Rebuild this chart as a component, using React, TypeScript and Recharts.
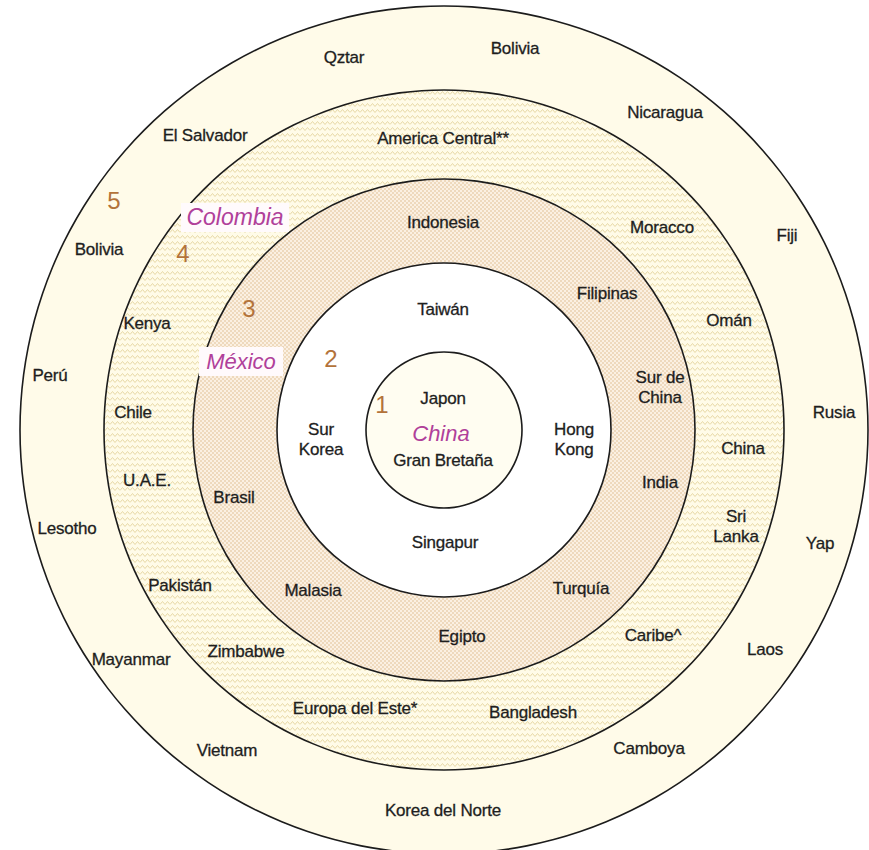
import { Cell, Pie, PieChart, Scatter, ScatterChart, XAxis, YAxis } from "recharts";

// rings, innermost first
const ringNames = ["1", "2", "3", "4", "5"];

// countries, in diagram units (0,0 = centre, y up)
const countries = [
  // ring 1
  { name: "Japon", ring: 1, x: -1, y: 32 },
  { name: "Gran Bretaña", ring: 1, x: -1, y: -30 },
  // ring 2
  { name: "Taiwán", ring: 2, x: -1, y: 121 },
  { name: "Sur\nKorea", ring: 2, x: -123, y: -9 },
  { name: "Hong\nKong", ring: 2, x: 130, y: -9 },
  { name: "Singapur", ring: 2, x: 1, y: -112 },
  // ring 3
  { name: "Indonesia", ring: 3, x: -1, y: 208 },
  { name: "Filipinas", ring: 3, x: 163, y: 137 },
  { name: "Sur de\nChina", ring: 3, x: 216, y: 43 },
  { name: "India", ring: 3, x: 216, y: -52 },
  { name: "Brasil", ring: 3, x: -210, y: -67 },
  { name: "Malasia", ring: 3, x: -131, y: -160 },
  { name: "Turquía", ring: 3, x: 137, y: -158 },
  { name: "Egipto", ring: 3, x: 18, y: -206 },
  // ring 4
  { name: "America Central**", ring: 4, x: -1, y: 292 },
  { name: "Moracco", ring: 4, x: 218, y: 203 },
  { name: "Omán", ring: 4, x: 285, y: 110 },
  { name: "Kenya", ring: 4, x: -297, y: 107 },
  { name: "Chile", ring: 4, x: -311, y: 18 },
  { name: "China", ring: 4, x: 299, y: -18 },
  { name: "U.A.E.", ring: 4, x: -297, y: -50 },
  { name: "Sri\nLanka", ring: 4, x: 292, y: -96 },
  { name: "Pakistán", ring: 4, x: -264, y: -155 },
  { name: "Caribe^", ring: 4, x: 209, y: -205 },
  { name: "Zimbabwe", ring: 4, x: -198, y: -221 },
  { name: "Europa del Este*", ring: 4, x: -89, y: -278 },
  { name: "Bangladesh", ring: 4, x: 89, y: -282 },
  // ring 5
  { name: "Qztar", ring: 5, x: -100, y: 373 },
  { name: "Bolivia", ring: 5, x: 71, y: 382 },
  { name: "Nicaragua", ring: 5, x: 221, y: 318 },
  { name: "El Salvador", ring: 5, x: -239, y: 295 },
  { name: "Fiji", ring: 5, x: 343, y: 195 },
  { name: "Bolivia", ring: 5, x: -345, y: 181 },
  { name: "Perú", ring: 5, x: -394, y: 55 },
  { name: "Rusia", ring: 5, x: 390, y: 18 },
  { name: "Lesotho", ring: 5, x: -377, y: -98 },
  { name: "Yap", ring: 5, x: 376, y: -113 },
  { name: "Mayanmar", ring: 5, x: -313, y: -229 },
  { name: "Laos", ring: 5, x: 321, y: -219 },
  { name: "Vietnam", ring: 5, x: -217, y: -320 },
  { name: "Camboya", ring: 5, x: 205, y: -318 },
  { name: "Korea del Norte", ring: 5, x: -1, y: -380 },
];

const highlights = [
  { name: "China", ring: 1, x: -3, y: -3 },
  { name: "México", ring: 3, x: -203, y: 69 },
  { name: "Colombia", ring: 4, x: -209, y: 213 },
];

const ringNumbers = [
  { name: "1", x: -62, y: 26 },
  { name: "2", x: -113, y: 72 },
  { name: "3", x: -195, y: 122 },
  { name: "4", x: -261, y: 177 },
  { name: "5", x: -330, y: 230 },
];

const W = 869;
const H = 850;
const CX = 444;
const CY = 430;
const RADII = [78, 167, 251, 340, 424];
const FILLS = ["#fffdf1", "#ffffff", "url(#checker)", "url(#wavy)", "#fffbe9"];
const FONT = "'Liberation Sans', Arial, sans-serif";

const ringData = ringNames.map((n) => ({ ring: n, share: 1 }));

function CountryLabel(props: any) {
  const { cx, cy, payload } = props;
  const lines = String(payload.name).split("\n");
  const lh = 20;
  const y0 = cy - ((lines.length - 1) * lh) / 2 + 6;
  return (
    <text
      textAnchor="middle"
      fontFamily={FONT}
      fontSize={17}
      letterSpacing={-0.2}
      fill="#1e1e1e"
      stroke="#1e1e1e"
      strokeWidth={0.3}
    >
      {lines.map((l, i) => (
        <tspan key={i} x={cx} y={y0 + i * lh}>
          {l}
        </tspan>
      ))}
    </text>
  );
}

function HighlightLabel(props: any) {
  const { cx, cy, payload } = props;
  const boxed = payload.ring > 1;
  const w = payload.name.length * 12 + 12;
  return (
    <g>
      {boxed && <rect x={cx - w / 2} y={cy - 14} width={w} height={29} fill="#fffafc" />}
      <text
        x={cx}
        y={cy + 8}
        textAnchor="middle"
        fontFamily={FONT}
        fontSize={payload.ring === 4 ? 23 : 22}
        fontStyle="italic"
        fill="#b0409a"
      >
        {payload.name}
      </text>
    </g>
  );
}

function NumberLabel(props: any) {
  const { cx, cy, payload } = props;
  return (
    <text x={cx} y={cy + 9} textAnchor="middle" fontFamily={FONT} fontSize={24} fill="#b3733a">
      {payload.name}
    </text>
  );
}

export default function App() {
  return (
    <div style={{ position: "absolute", left: 0, top: 0, width: W, height: H, background: "#fff" }}>
      <div style={{ position: "absolute", left: 0, top: 0 }}>
        <PieChart width={W} height={H} margin={{ top: 0, right: 0, bottom: 0, left: 0 }}>
          <defs>
            <pattern id="checker" width={4} height={4} patternUnits="userSpaceOnUse">
              <rect width={4} height={4} fill="#fbf0e2" />
              <rect width={2} height={2} fill="#eed9bd" />
              <rect x={2} y={2} width={2} height={2} fill="#eed9bd" />
            </pattern>
            <pattern id="wavy" width={10} height={6} patternUnits="userSpaceOnUse">
              <rect width={10} height={6} fill="#fffbe8" />
              <polyline points="0,4.5 2.5,1.5 5,4.5 7.5,1.5 10,4.5" fill="none" stroke="#e8d9a6" strokeWidth={1} />
            </pattern>
          </defs>
          {ringData.map((d, i) => (
            <Pie
              key={"ring" + d.ring}
              data={[d]}
              dataKey="share"
              cx={CX}
              cy={CY}
              innerRadius={i === 0 ? 0 : RADII[i - 1]}
              outerRadius={RADII[i]}
              startAngle={90}
              endAngle={-270}
              stroke="none"
              isAnimationActive={false}
            >
              <Cell fill={FILLS[i]} stroke="none" />
            </Pie>
          ))}
          {ringData.map((d, i) => (
            <Pie
              key={"edge" + d.ring}
              data={[d]}
              dataKey="share"
              cx={CX}
              cy={CY}
              innerRadius={RADII[i] - 0.8}
              outerRadius={RADII[i] + 0.8}
              startAngle={90}
              endAngle={-270}
              stroke="none"
              isAnimationActive={false}
            >
              <Cell fill="#1c1c1c" stroke="none" />
            </Pie>
          ))}
        </PieChart>
      </div>
      <div style={{ position: "absolute", left: 0, top: 0 }}>
        <ScatterChart width={W} height={H} margin={{ top: 0, right: 0, bottom: 0, left: 0 }}>
          <XAxis type="number" dataKey="x" domain={[-444, 425]} allowDataOverflow hide />
          <YAxis type="number" dataKey="y" domain={[-420, 430]} allowDataOverflow hide />
          <Scatter data={countries} shape={(p: any) => <CountryLabel {...p} />} isAnimationActive={false} />
          <Scatter data={highlights} shape={(p: any) => <HighlightLabel {...p} />} isAnimationActive={false} />
          <Scatter data={ringNumbers} shape={(p: any) => <NumberLabel {...p} />} isAnimationActive={false} />
        </ScatterChart>
      </div>
    </div>
  );
}
